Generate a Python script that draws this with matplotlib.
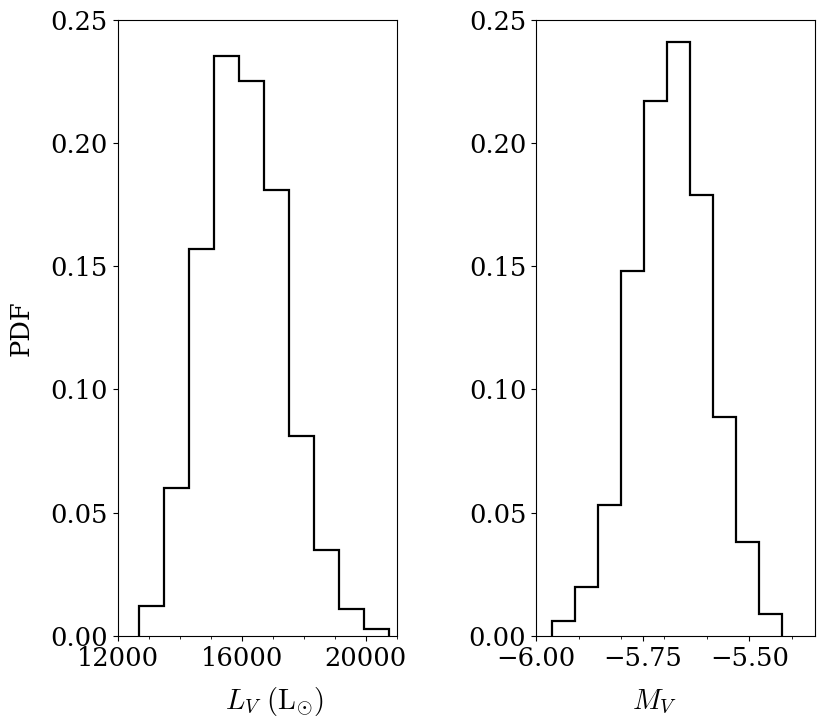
import matplotlib
matplotlib.use("Agg")
import matplotlib.pyplot as plt
from matplotlib.ticker import MultipleLocator

plt.rcParams['font.family'] = ['DejaVu Serif']
plt.rcParams['mathtext.fontset'] = 'cm'

# Left panel: V-band luminosity
lv_edges = [12700, 13505, 14310, 15115, 15920, 16725, 17530, 18335, 19140, 19945, 20750]
lv_frac = [0.012, 0.060, 0.157, 0.235, 0.225, 0.181, 0.081, 0.035, 0.011, 0.003]

# Right panel: absolute V magnitude
mv_edges = [-5.963, -5.909, -5.855, -5.801, -5.747, -5.694, -5.640, -5.586, -5.532, -5.478, -5.424]
mv_frac = [0.006, 0.020, 0.053, 0.148, 0.217, 0.241, 0.179, 0.089, 0.038, 0.009]

fig = plt.figure(figsize=(8.3, 7.25), dpi=100)
ax1 = fig.add_axes([0.1418, 0.1228, 0.3361, 0.8503])
ax2 = fig.add_axes([0.6458, 0.1228, 0.3361, 0.8503])

ax1.hist(lv_edges[:-1], bins=lv_edges, weights=lv_frac, histtype='step',
         color='black', linewidth=1.6)
ax2.hist(mv_edges[:-1], bins=mv_edges, weights=mv_frac, histtype='step',
         color='black', linewidth=1.6)

ax1.set_xlim(12000, 21000)
ax2.set_xlim(-6.0, -5.346)
for ax in (ax1, ax2):
    ax.set_ylim(0, 0.25)
    ax.yaxis.set_major_locator(MultipleLocator(0.05))
    ax.yaxis.set_major_formatter(matplotlib.ticker.FormatStrFormatter('%.2f'))
    ax.tick_params(labelsize=18.5)

ax1.xaxis.set_major_locator(MultipleLocator(4000))
ax1.xaxis.set_minor_locator(MultipleLocator(1000))
ax2.xaxis.set_major_locator(MultipleLocator(0.25))
ax2.xaxis.set_minor_locator(MultipleLocator(0.1))
ax2.xaxis.set_major_formatter(matplotlib.ticker.FuncFormatter(lambda v, p: '\u2212%.2f' % abs(v) if v < 0 else '%.2f' % v))

ax1.set_ylabel('PDF', fontsize=18.5, labelpad=12)
ax1.set_xlabel(r'$L_V\ (\mathrm{L}_{\odot})$', fontsize=20.5, labelpad=10)
ax2.set_xlabel(r'$M_V$', fontsize=20.5, labelpad=12)
ax1.xaxis.label.set_x(0.56)
ax2.xaxis.label.set_x(0.423)

fig.savefig('out.png', dpi=100)
